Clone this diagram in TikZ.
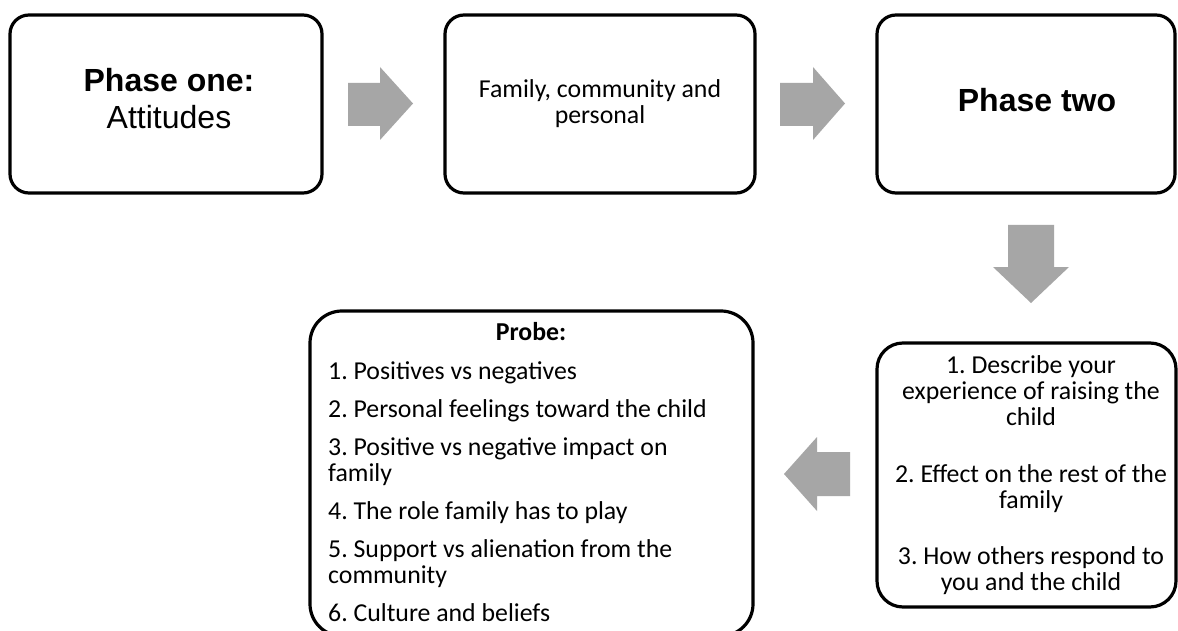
\documentclass[tikz,border=0pt]{standalone}
\usepackage{fontspec}
\setmainfont{Carlito}
\newfontfamily\arialfont{Liberation Sans}
\definecolor{arrowgray}{RGB}{166,166,166}
\frenchspacing
\begin{document}
\begin{tikzpicture}[x=1pt,y=-1pt,
  panel/.style={draw=black, line width=3.2pt, rounded corners=#1, inner sep=0pt},
  panel/.default=19pt,
  phasetext/.style={font=\arialfont\fontsize{32}{37}\selectfont, align=center, inner sep=0pt},
  bodytext/.style={font=\fontsize{25.8}{26}\selectfont, inner sep=0pt},
  blockarrow/.style={fill=arrowgray, draw=none}]
\useasboundingbox (0,0) rectangle (1178,631);
\fill[white] (0,0) rectangle (1178,631);

% top row of phase boxes
\node[panel, minimum width=312pt, minimum height=178pt] (phaseone) at (166,104) {};
\node[panel, minimum width=310pt, minimum height=178pt] (topics) at (600,104) {};
\node[panel, minimum width=298pt, minimum height=178pt] (phasetwo) at (1026,104) {};

% lower row
\node[panel=32pt, minimum width=443pt, minimum height=325pt] (probe) at (531.5,473.5) {};
\node[panel=26pt, minimum width=299pt, minimum height=264pt] (questions) at (1026.5,475) {};

% box texts
\node[phasetext] (phaseonetext) at (169,99) {\bfseries Phase one:\\Attitudes};
\node[bodytext, align=center] (topicstext) at (600,104) {Family, community and\\personal};
\node[phasetext, font=\arialfont\bfseries\fontsize{32}{37}\selectfont] (phasetwotext) at (1037,100) {Phase two};

\node[bodytext, font=\bfseries\fontsize{25.8}{26}\selectfont, anchor=base] (probetitle) at (531,340) {Probe:};
\node[bodytext, align=left, anchor=north west] (probelist) at (328,361) {%
1. Positives vs negatives\\[12pt]
2. Personal feelings toward the child\\[12pt]
3. Positive vs negative impact on\\
family\\[12pt]
4. The role family has to play\\[12pt]
5. Support vs alienation from the\\
community\\[12pt]
6. Culture and beliefs};

\node[bodytext, align=center, anchor=north] (questionstext) at (1031,355) {%
1. Describe your\\
experience of raising the\\
child\\[31pt]
2. Effect on the rest of the\\
family\\[30pt]
3. How others respond to\\
you and the child};

% block arrows
\fill[blockarrow] (348,83) -- (380,83) -- (380,67) -- (413,103.5) -- (380,140) -- (380,126) -- (348,126) -- cycle;
\fill[blockarrow] (780,83) -- (813,83) -- (813,67) -- (845,103.5) -- (813,140) -- (813,126) -- (780,126) -- cycle;
\fill[blockarrow] (1008,225) -- (1054,225) -- (1054,267) -- (1069,267) -- (1031,303) -- (993,267) -- (1008,267) -- cycle;
\fill[blockarrow] (850,452) -- (817,452) -- (817,437) -- (784,474) -- (817,511) -- (817,496) -- (850,496) -- cycle;
\end{tikzpicture}
\end{document}
